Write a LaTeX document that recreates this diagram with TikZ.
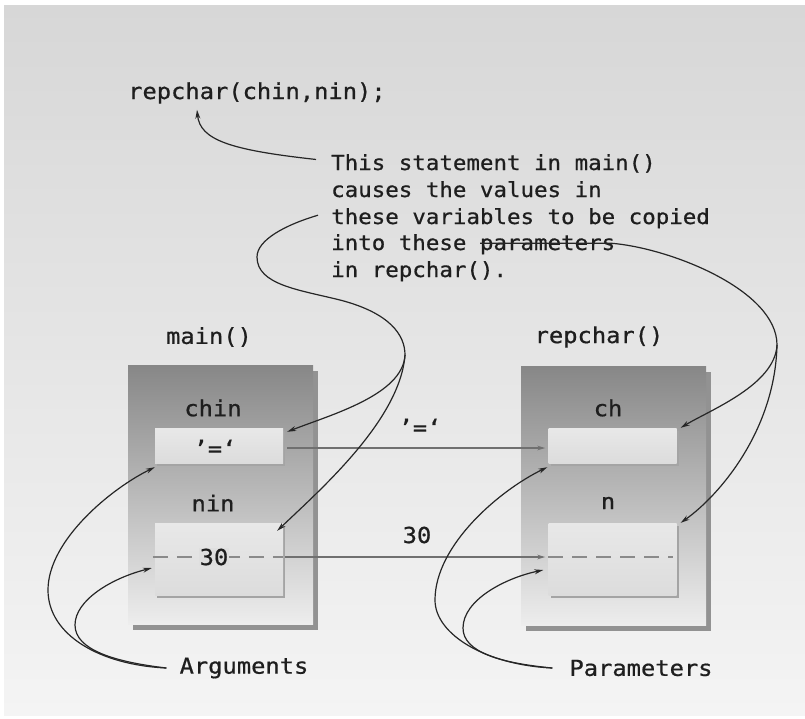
\documentclass[tikz,border=0pt]{standalone}
\usepackage{fontspec}
\newfontfamily\codefont[FakeStretch=1.08,FakeBold=0.7]{DejaVu Sans Mono}
\usetikzlibrary{arrows.meta,shadows}
\definecolor{bgtop}{HTML}{D7D7D7}
\definecolor{bgbot}{HTML}{F4F4F4}
\definecolor{boxtop}{HTML}{878787}
\definecolor{boxbot}{HTML}{EDEDED}
\definecolor{boxshadow}{HTML}{929292}
\definecolor{intop}{HTML}{E8E8E8}
\definecolor{inbot}{HTML}{DCDCDC}
\definecolor{inshadow}{HTML}{A4A4A4}
\definecolor{ninfill}{HTML}{DFDFDF}
\definecolor{txt}{HTML}{1E1E1E}
\definecolor{harrow}{HTML}{707070}
\definecolor{dashc}{HTML}{8A8A8A}
\definecolor{curvec}{HTML}{262626}
\tikzset{
  lbl/.style={font=\codefont\fontsize{22}{26}\selectfont, text=txt, inner sep=1pt},
  para/.style={font=\codefont\fontsize{20.8}{26.8}\selectfont, text=txt, inner sep=0pt, anchor=base west},
  outerbox/.style={minimum width=185pt, minimum height=259pt, inner sep=0pt,
    top color=boxtop, bottom color=boxbot,
    drop shadow={shadow xshift=5pt, shadow yshift=-6pt, fill=boxshadow, opacity=1}},
  innerbox/.style={minimum width=128pt, inner sep=0pt, top color=intop, bottom color=inbot,
    drop shadow={shadow xshift=2pt, shadow yshift=-3pt, fill=inshadow, opacity=1}},
  grayarrow/.style={draw=harrow, line width=1.3pt, -{Stealth[length=8pt,width=4.5pt]}},
  dashline/.style={draw=dashc, line width=1.2pt, dash pattern=on 15pt off 9pt},
  pointer/.style={draw=curvec, line width=1.2pt, -{Stealth[length=9pt,width=5pt]}},
  plainline/.style={draw=curvec, line width=1.2pt}
}
\begin{document}
\begin{tikzpicture}[x=1pt,y=-1pt]
\useasboundingbox (0,0) rectangle (805,718);
\fill[white] (0,0) rectangle (805,718);
\shade[top color=bgtop, bottom color=bgbot] (4,5) rectangle (805,715);

% outer boxes
\node[outerbox] (mainbox) at (220.5,494.5) {};
\node[outerbox] (repbox) at (613.5,495.5) {};

% inner boxes
\node[innerbox, minimum height=35pt] (chinbox) at (219,445.5) {};
\node[innerbox, minimum height=72pt] (ninbox) at (219,559) {};
\node[innerbox, minimum height=35pt] (chbox) at (612.5,445.5) {};
\node[innerbox, minimum height=72pt] (nbox) at (612.5,559) {};

% dashed lines
\draw[dashline] ([xshift=-2pt,yshift=2pt]ninbox.west) -- ([yshift=2pt]ninbox.east);
\draw[dashline] ([yshift=2pt]nbox.west) -- ([xshift=-4pt,yshift=2pt]nbox.east);

% labels
\node[lbl] (mainlbl) at (209,337) {main()};
\node[lbl] (replbl) at (599,337) {repchar()};
\node[lbl] (chinlbl) at (213,408) {chin};
\node[lbl] (ninlbl) at (213,503) {nin};
\node[lbl] (chlbl) at (608,408) {ch};
\node[lbl] (nlbl) at (608,503) {n};
\node[lbl] (chinval) at (215,448) {’=‘};
\node[lbl, fill=ninfill] (ninval) at (214,557) {30};
\node[lbl] (arrlbl1) at (420,427) {’=‘};
\node[lbl] (arrlbl2) at (417,535) {30};
\node[lbl] (args) at (244,668) {Arguments};
\node[lbl] (params) at (641,668) {Parameters};
\node[lbl, anchor=base west, inner sep=0pt] (call) at (128,99) {repchar(chin,nin);};

% paragraph
\node[para] (l1) at (331,170) {This statement in main()};
\node[para] (l2) at (331,197) {causes the values in};
\node[para] (l3) at (331,224) {these variables to be copied};
\node[para] (l4) at (331,250) {into these parameters};
\node[para] (l5) at (331,277) {in repchar().};

% horizontal value arrows
\draw[grayarrow] ([xshift=4pt,yshift=-2.5pt]chinbox.east) -- ([xshift=-3pt,yshift=-2.5pt]chbox.west);
\draw[grayarrow] ([xshift=2pt,yshift=2pt]ninbox.east) -- ([xshift=-3pt,yshift=2pt]nbox.west);

% statement -> call
\draw[pointer] ([xshift=-15pt,yshift=4pt]l1.west) .. controls (230,150) and (200,140) .. ([xshift=69pt,yshift=-6pt]call.south west);

% variables -> chin, nin
\draw[plainline] ([xshift=-13pt,yshift=3pt]l3.west) .. controls (285,225) and (257,240) .. (257,257)
  .. controls (257,285) and (300,290) .. (340,300)
  .. controls (390,313) and (405,335) .. (405,355) coordinate (vsplit);
\draw[pointer] (vsplit) .. controls (403,395) and (330,415) .. ([xshift=4pt,yshift=-4pt]chinbox.north east);
\draw[pointer] (vsplit) .. controls (400,420) and (320,490) .. ([xshift=-6pt,yshift=-8pt]ninbox.north east);

% parameters -> ch, n
\draw[plainline] ([xshift=149pt,yshift=1pt]l4.west) -- ([xshift=-4pt,yshift=1pt]l4.east)
  .. controls (670,248) and (777,290) .. (777,345) coordinate (psplit);
\draw[pointer] (psplit) .. controls (775,385) and (710,410) .. ([xshift=4pt]chbox.north east);
\draw[pointer] (psplit) .. controls (775,430) and (720,495) .. ([xshift=4pt]nbox.north east);

% Arguments
\draw[pointer] ([xshift=-12pt]args.west) .. controls (100,665) and (48,635) .. (48,590)
  .. controls (48,540) and (112,488) .. ([yshift=-4pt]chinbox.south west);
\draw[pointer] ([xshift=-12pt]args.west) .. controls (115,662) and (75,650) .. (75,625)
  .. controls (75,600) and (112,578) .. ([xshift=-3pt,yshift=-9pt]ninbox.west);

% Parameters
\draw[pointer] ([xshift=-16pt]params.west) .. controls (487,665) and (435,635) .. (435,600)
  .. controls (435,545) and (500,490) .. ([xshift=-1pt,yshift=-4pt]chbox.south west);
\draw[pointer] ([xshift=-16pt]params.west) .. controls (500,663) and (463,652) .. (463,628)
  .. controls (463,600) and (505,578) .. ([xshift=-5pt,yshift=-11pt]nbox.west);
\end{tikzpicture}
\end{document}
